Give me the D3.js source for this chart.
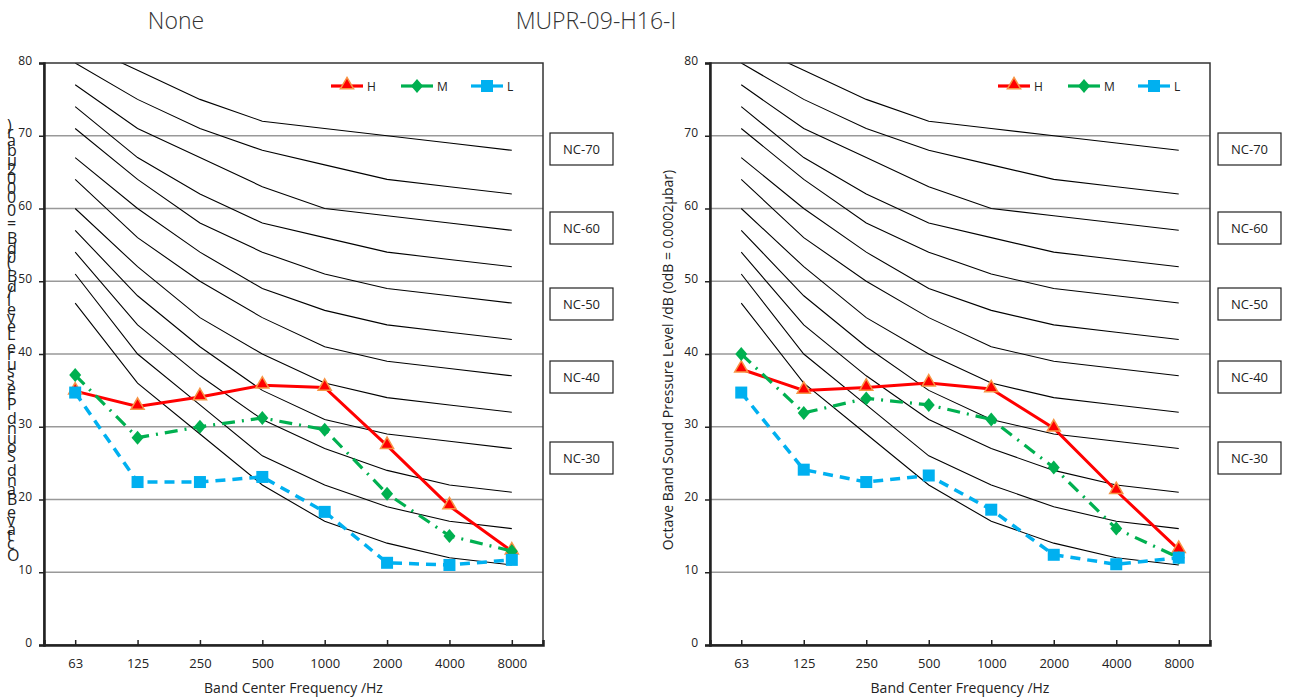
<!DOCTYPE html>
<html>
<head>
<meta charset="utf-8">
<script src="https://cdn.jsdelivr.net/npm/d3@7"></script>
<style>
body { margin: 0; background: #fff; }
text { font-family: "Open Sans", "Noto Sans", sans-serif; }
</style>
</head>
<body>
<script>
const width = 1289, height = 699

const freqs = ["63", "125", "250", "500", "1000", "2000", "4000", "8000"]
const yTicks = [0, 10, 20, 30, 40, 50, 60, 70, 80]

// NC reference curves
const ncNames = ["NC-15", "NC-20", "NC-25", "NC-30", "NC-35", "NC-40", "NC-45", "NC-50", "NC-55", "NC-60", "NC-65", "NC-70"]
const ncValues = [
    [47, 36, 29, 22, 17, 14, 12, 11],
    [51, 40, 33, 26, 22, 19, 17, 16],
    [54, 44, 37, 31, 27, 24, 22, 21],
    [57, 48, 41, 35, 31, 29, 28, 27],
    [60, 52, 45, 40, 36, 34, 33, 32],
    [64, 56, 50, 45, 41, 39, 38, 37],
    [67, 60, 54, 49, 46, 44, 43, 42],
    [71, 64, 58, 54, 51, 49, 48, 47],
    [74, 67, 62, 58, 56, 54, 53, 52],
    [77, 71, 67, 63, 60, 59, 58, 57],
    [80, 75, 71, 68, 66, 64, 63, 62],
    [83, 79, 75, 72, 71, 70, 69, 68]
]
const ncLabels = ["NC-70", "NC-60", "NC-50", "NC-40", "NC-30"]
const ncLabelY = [149, 228, 304, 377, 458]

const seriesNames = ["H", "M", "L"]
// left chart: "None"
const leftH = [34.9, 32.8, 34.1, 35.7, 35.4, 27.4, 19.1, 12.9]
const leftM = [37.1, 28.5, 30.0, 31.2, 29.6, 20.8, 15.0, 12.9]
const leftL = [34.7, 22.4, 22.4, 23.1, 18.3, 11.3, 11.0, 11.7]
// right chart: "MUPR-09-H16-I"
const rightH = [37.9, 35.0, 35.4, 36.0, 35.2, 29.8, 21.2, 13.1]
const rightM = [40.0, 31.9, 33.9, 33.0, 31.0, 24.4, 16.0, 12.0]
const rightL = [34.7, 24.1, 22.4, 23.3, 18.6, 12.4, 11.1, 12.0]

const titles = [{text: "None", x: 176}, {text: "MUPR-09-H16-I", x: 596}]
const yTitle = "Octave Band Sound Pressure Level /dB (0dB = 0.0002μbar)"
const xTitle = "Band Center Frequency /Hz"

const styles = {
    H: {color: "#ff0000", dash: null, width: 3},
    M: {color: "#00b050", dash: "13,7,2,7", width: 3.2},
    L: {color: "#00b0f0", dash: "10,7", width: 3.5}
}

const svg = d3.select("body").append("svg")
    .attr("width", width)
    .attr("height", height)

svg.selectAll(".title").data(titles).enter()
    .append("text")
    .attr("x", d => d.x)
    .attr("y", 29)
    .attr("text-anchor", "middle")
    .attr("font-size", 23)
    .attr("font-weight", 300)
    .attr("fill", "#333")
    .text(d => d.text)

function marker(sel, name, color) {
    if (name === "H") {
        sel.append("path").attr("d", d3.symbol(d3.symbolTriangle, 75)())
            .attr("transform", "translate(0,-1)")
            .attr("fill", color).attr("stroke", "#f79646").attr("stroke-width", 1.5)
    } else if (name === "M") {
        sel.append("path").attr("d", "M0,-7L6,0L0,7L-6,0Z").attr("fill", color)
    } else {
        sel.append("rect").attr("x", -6).attr("y", -6).attr("width", 12).attr("height", 12).attr("fill", color)
    }
}

function drawChart(id, left, right, data, legendX, boxX, garbledLabel) {
    const top = 63, bottom = 645
    const x = d3.scalePoint().domain(freqs).range([left, right]).padding(0.5)
    const y = d3.scaleLinear().domain([0, 80]).range([bottom, top])
    const g = svg.append("g")

    svg.append("clipPath").attr("id", "clip" + id)
        .append("rect").attr("x", left).attr("y", top).attr("width", right - left).attr("height", bottom - top)

    // gridlines
    g.selectAll(".grid").data(yTicks.slice(1, -1)).enter()
        .append("line")
        .attr("x1", left).attr("x2", right)
        .attr("y1", d => y(d)).attr("y2", d => y(d))
        .attr("stroke", "#999").attr("stroke-width", 1.3)

    // NC curves
    const ncLine = d3.line().x((d, i) => x(freqs[i])).y(d => y(d))
    g.append("g").attr("clip-path", `url(#clip${id})`)
        .selectAll(".nc").data(ncValues).enter()
        .append("path")
        .attr("d", ncLine)
        .attr("fill", "none").attr("stroke", "#000").attr("stroke-width", 1.1)

    // frame
    g.append("rect").attr("x", left).attr("y", top).attr("width", right - left).attr("height", bottom - top)
        .attr("fill", "none").attr("stroke", "#333").attr("stroke-width", 1.5)

    const yAxis = g.append("g").attr("transform", `translate(${left},0)`)
        .call(d3.axisLeft(y).tickValues(yTicks).tickSize(5).tickPadding(7))
    yAxis.select(".domain").attr("stroke", "#222").attr("stroke-width", 2.5)
    yAxis.selectAll("text").attr("font-family", "DejaVu Sans").attr("font-size", 12).attr("fill", "#222")
        .attr("dy", "0.1em")
    yAxis.selectAll(".tick line").attr("stroke", "#222").attr("stroke-width", 1.5)

    const xAxis = g.append("g").attr("transform", `translate(0,${bottom})`)
        .call(d3.axisBottom(x).tickSize(-5).tickPadding(14))
    xAxis.select(".domain").attr("stroke", "#222").attr("stroke-width", 2.5)
    xAxis.selectAll("text").attr("font-size", 13).attr("fill", "#222")
    xAxis.selectAll(".tick line").attr("stroke", "#222").attr("stroke-width", 1.5)

    g.append("text")
        .attr("x", (left + right) / 2).attr("y", 693)
        .attr("text-anchor", "middle").attr("font-size", 14).attr("fill", "#222")
        .text(xTitle)

    if (garbledLabel) {
        // rotated label whose glyphs are turned back upright, one text element
        g.append("text")
            .attr("transform", "translate(7,561) rotate(-90)")
            .attr("font-size", 16)
            .attr("fill", "#222")
            .attr("rotate", 90)
            .text(yTitle)
    } else {
        g.append("text")
            .attr("transform", `translate(${left - 37},${(top + bottom) / 2 + 6}) rotate(-90)`)
            .attr("text-anchor", "middle").attr("font-size", 14).attr("fill", "#222")
            .text(yTitle)
    }

    // series
    const line = d3.line().x((d, i) => x(freqs[i])).y(d => y(d))
    seriesNames.forEach((name, k) => {
        const s = styles[name]
        g.append("path").datum(data[k])
            .attr("d", line)
            .attr("fill", "none").attr("stroke", s.color).attr("stroke-width", s.width)
            .attr("stroke-dasharray", s.dash)
        const m = g.selectAll(".m" + name).data(data[k]).enter()
            .append("g")
            .attr("transform", (d, i) => `translate(${x(freqs[i])},${y(d)})`)
        marker(m, name, s.color)
    })

    // legend
    const leg = g.selectAll(".leg").data(seriesNames).enter()
        .append("g")
        .attr("transform", (d, i) => `translate(${legendX + i * 70},86)`)
    leg.append("line").attr("x1", 0).attr("x2", 32).attr("y1", 0).attr("y2", 0)
        .attr("stroke", d => styles[d].color).attr("stroke-width", 3.2)
    leg.each(function (d) {
        marker(d3.select(this).append("g").attr("transform", "translate(16,0)"), d, styles[d].color)
    })
    leg.append("text").attr("x", 36).attr("y", 5).attr("font-size", 12).attr("fill", "#222")
        .attr("font-family", "Liberation Sans")
        .text(d => d)

    // NC labels
    const box = g.selectAll(".ncbox").data(ncLabels).enter()
        .append("g")
        .attr("transform", (d, i) => `translate(${boxX},${ncLabelY[i]})`)
    box.append("rect").attr("x", 0).attr("y", -16).attr("width", 63).attr("height", 32)
        .attr("fill", "#fff").attr("stroke", "#222").attr("stroke-width", 1.2)
    box.append("text").attr("x", 31.5).attr("y", 5).attr("text-anchor", "middle")
        .attr("font-size", 13).attr("fill", "#222")
        .text(d => d)
}

drawChart("a", 44, 543, [leftH, leftM, leftL], 331, 550, true)
drawChart("b", 710, 1210, [rightH, rightM, rightL], 998, 1218, false)
</script>
</body>
</html>
